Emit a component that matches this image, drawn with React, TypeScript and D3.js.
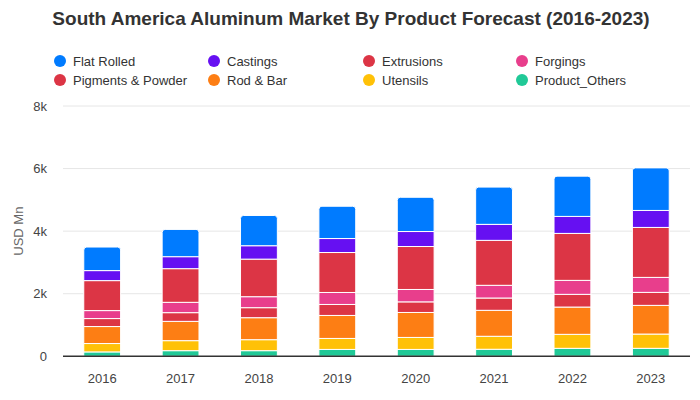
import React from "react";
import * as d3 from "d3";

const years = ["2016", "2017", "2018", "2019", "2020", "2021", "2022", "2023"];
const productOthers = [140, 180, 180, 220, 220, 225, 255, 255];
const utensils = [268, 320, 351, 351, 383, 415, 447, 456];
const rodBar = [543, 617, 703, 735, 798, 830, 872, 917];
const pigments = [255, 278, 320, 351, 339, 393, 406, 415];
const forgings = [255, 330, 351, 383, 396, 406, 447, 479];
const extrusions = [958, 1076, 1201, 1277, 1373, 1437, 1501, 1597];
const castings = [320, 383, 428, 447, 479, 511, 543, 543];
const flatRolled = [753, 872, 967, 1032, 1095, 1191, 1287, 1360];
const yTicks = [0, 2000, 4000, 6000, 8000];

// bottom to top
const series = [
  { name: "Product_Others", values: productOthers, color: "#20c997" },
  { name: "Utensils", values: utensils, color: "#ffc107" },
  { name: "Rod & Bar", values: rodBar, color: "#fd7e14" },
  { name: "Pigments & Powder", values: pigments, color: "#dc3545" },
  { name: "Forgings", values: forgings, color: "#e83e8c" },
  { name: "Extrusions", values: extrusions, color: "#dc3545" },
  { name: "Castings", values: castings, color: "#6610f2" },
  { name: "Flat Rolled", values: flatRolled, color: "#007bff" },
];

const legendOrder = ["Flat Rolled", "Castings", "Extrusions", "Forgings", "Pigments & Powder", "Rod & Bar", "Utensils", "Product_Others"];

const W = 700, H = 400;
const M = { left: 63, right: 10, top: 106, bottom: 44 };

function roundTopRect(x: number, y: number, w: number, h: number, r: number) {
  r = Math.min(r, h, w / 2);
  return `M${x},${y + h}V${y + r}Q${x},${y} ${x + r},${y}H${x + w - r}Q${x + w},${y} ${x + w},${y + r}V${y + h}Z`;
}

export default function App() {
  const x = d3.scaleBand().domain(years).range([M.left, W - M.right]).paddingInner(0.53).paddingOuter(0.265);
  const y = d3.scaleLinear().domain([0, 8000]).range([H - M.bottom + 0.3, M.top]);
  const table = years.map((yr, i) => {
    const row: any = { year: yr };
    series.forEach((s) => (row[s.name] = s.values[i]));
    return row;
  });
  const stack = d3.stack().keys(series.map((s) => s.name))(table as any);
  const font = "Liberation Sans, Arial, sans-serif";
  const colorOf = (n: string) => series.find((s) => s.name === n)!.color;
  const legendX = [60, 214, 369, 522];

  return (
    <svg width={W} height={H} style={{ position: "absolute", left: 0, top: 0 }} fontFamily={font}>
      <rect width={W} height={H} fill="#fff" />
      <text x={351} y={25} textAnchor="middle" fontSize={19} fontWeight="bold" fill="#333">
        South America Aluminum Market By Product Forecast (2016-2023)
      </text>
      {legendOrder.map((n, i) => {
        const cx = legendX[i % 4];
        const cy = 61 + Math.floor(i / 4) * 19;
        return (
          <g key={n}>
            <circle cx={cx} cy={cy} r={6} fill={colorOf(n)} />
            <text x={cx + 13} y={cy + 4.5} fontSize={13} fill="#333">{n}</text>
          </g>
        );
      })}
      {yTicks.map((t) => (
        <g key={t}>
          {t > 0 && <line x1={M.left} x2={W - M.right} y1={y(t)} y2={y(t)} stroke="#e6e6e6" strokeWidth={1} />}
          <text x={47} y={y(t) + 4.5} textAnchor="end" fontSize={13} fill="#444">{t === 0 ? "0" : `${t / 1000}k`}</text>
        </g>
      ))}
      <text transform={`translate(23,${(y(0) + y(8000)) / 2}) rotate(-90)`} textAnchor="middle" fontSize={13} fill="#666">USD Mn</text>
      {stack.map((layer, li) => (
        <g key={layer.key} fill={series[li].color}>
          {layer.map((d, i) => {
            const bx = x(years[i])!;
            const y0 = y(d[0]);
            const y1 = y(d[1]);
            const isTop = li === stack.length - 1;
            if (isTop) {
              return <path key={i} d={roundTopRect(bx, y1, x.bandwidth(), y0 - y1, 3)} stroke="#fff" strokeWidth={1} />;
            }
            return <rect key={i} x={bx} y={y1} width={x.bandwidth()} height={y0 - y1} stroke="#fff" strokeWidth={1} />;
          })}
        </g>
      ))}
      <line x1={M.left} x2={W - M.right} y1={y(0)} y2={y(0)} stroke="#333" strokeWidth={1.5} />
      {years.map((yr) => (
        <text key={yr} x={x(yr)! + x.bandwidth() / 2} y={383} textAnchor="middle" fontSize={13} fill="#444">{yr}</text>
      ))}
    </svg>
  );
}
